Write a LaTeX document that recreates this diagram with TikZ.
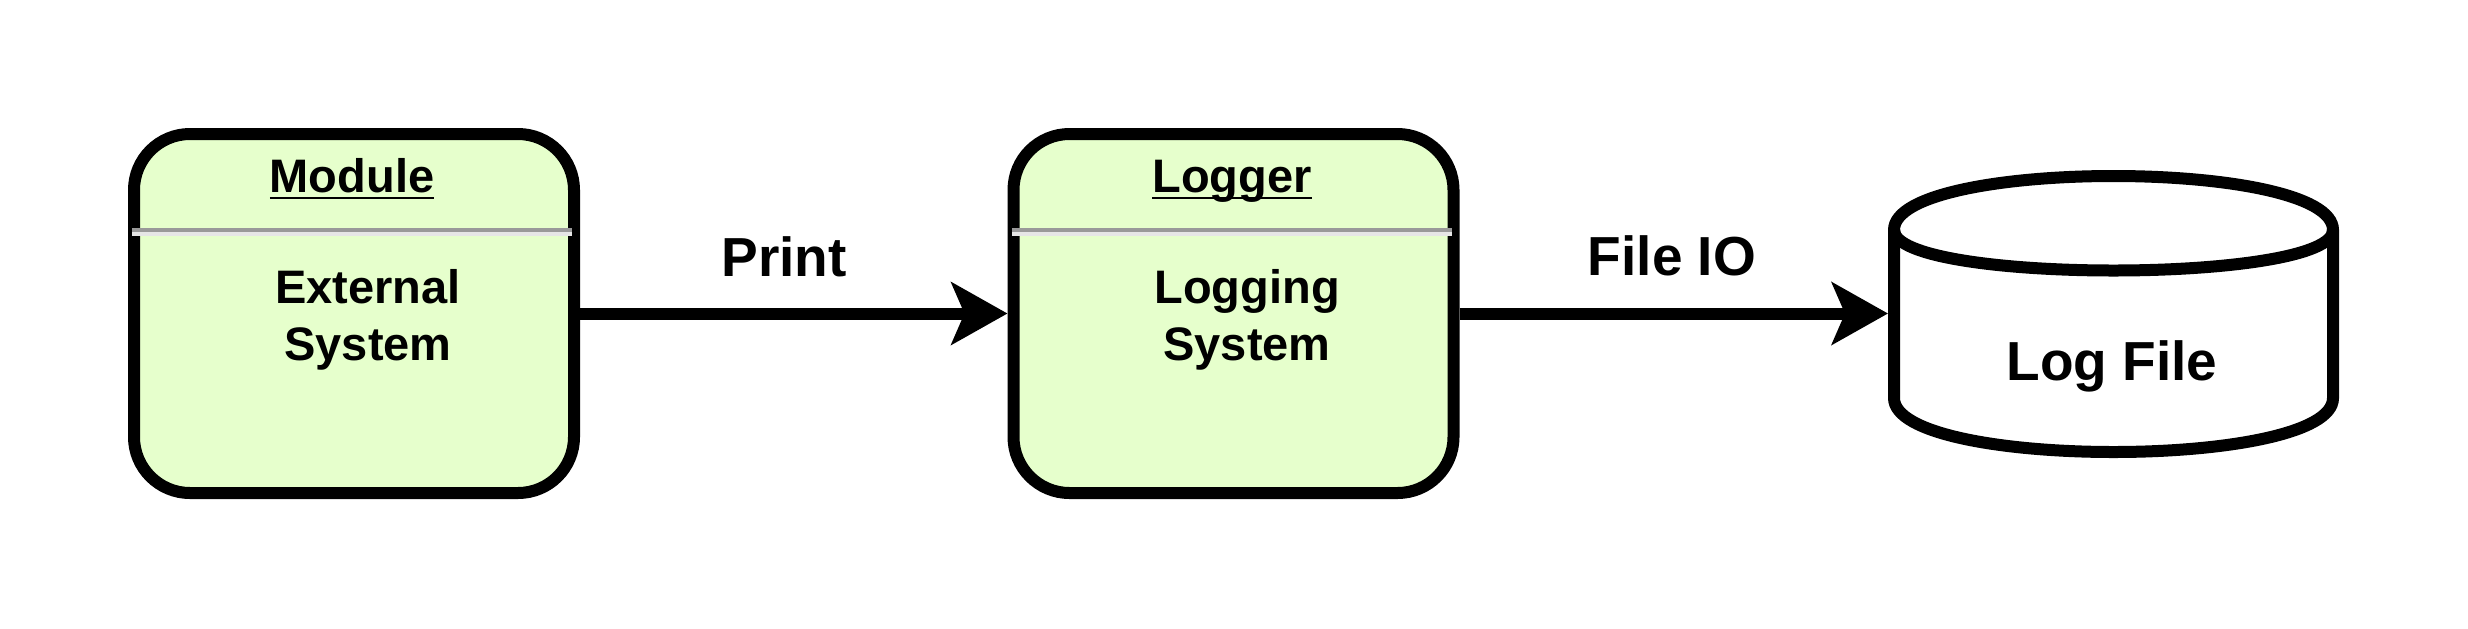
\documentclass[tikz,border=0pt]{standalone}
\usepackage{fontspec}
\setmainfont{Liberation Sans}
\usetikzlibrary{arrows.meta}
\definecolor{boxfill}{HTML}{E6FFCC}
\definecolor{sepdark}{HTML}{999999}
\definecolor{seplight}{HTML}{E6E6E6}
\newcommand\myul[1]{\setbox0\hbox{#1}\rlap{\rule[-3.7pt]{\wd0}{1.4pt}}\box0}
\begin{document}
\begin{tikzpicture}[x=0.5pt,y=-0.5pt,
  compbox/.style={draw=black, line width=6pt, fill=boxfill, rounded corners=28pt, minimum width=220pt, minimum height=179.5pt, inner sep=0pt},
  title/.style={font=\bfseries\fontsize{23.5}{28.5}\selectfont, anchor=base, inner sep=0pt},
  body/.style={font=\bfseries\fontsize{23.5}{28.5}\selectfont, align=center, anchor=base, inner sep=0pt},
  lbl/.style={font=\bfseries\fontsize{27.5}{33}\selectfont, anchor=base, inner sep=0pt},
  flow/.style={line width=6pt, -{Stealth[length=28pt,width=31pt,inset=6.5pt]}},
  cyl/.style={line width=6pt},
]
\useasboundingbox[fill=white] (0,0) rectangle (2468,628);
% component boxes
\node[compbox] (mod) at (354,313.5) {};
\node[compbox] (log) at (1233.5,313.5) {};
% separators
\fill[sepdark] (132,228) rectangle (572,232);
\fill[seplight] (132,232) rectangle (572,236);
\fill[sepdark] (1012,228) rectangle (1452,232);
\fill[seplight] (1012,232) rectangle (1452,236);
% cylinder
\node[minimum width=219.5pt, minimum height=138pt, inner sep=0pt, outer sep=3pt] (lf) at (2113.5,314) {};
\draw[cyl, fill=white] (1894,230) .. controls (1894,158) and (2333,158) .. (2333,230) -- (2333,398) .. controls (2333,470) and (1894,470) .. (1894,398) -- cycle;
\draw[cyl] (1894,230) .. controls (1894,284) and (2333,284) .. (2333,230);
% connectors
\draw[flow] (mod.east) -- (log.west);
\draw[flow] (log.east) -- (log.east -| lf.west);
% texts
\node[title] (modt) at (352,192) {\myul{Module}};
\node[body] (modb) at (368,360) {External\\System};
\node[title] (logt) at (1232,192) {\myul{Logger}};
\node[body] (logb) at (1247,360) {Logging\\System};
\node[lbl] (pr) at (784,276) {Print};
\node[lbl] (fio) at (1672,275) {File IO};
\node[lbl] (lft) at (2112,380) {Log File};
\end{tikzpicture}
\end{document}
